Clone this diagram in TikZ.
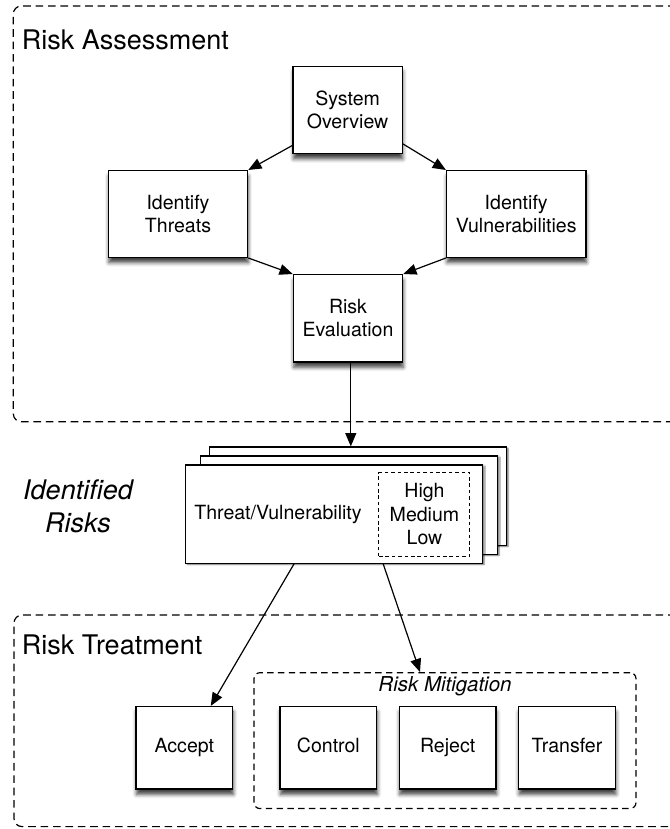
\documentclass[tikz,border=0pt]{standalone}
\usepackage{fontspec}
\setmainfont{TeX Gyre Heros}
\usetikzlibrary{arrows.meta,shadows.blur}
\tikzset{
  box/.style={draw, line width=0.035cm, fill=white, align=center, inner sep=0pt,
    font=\fontsize{13.9}{16.6}\selectfont,
    blur shadow={shadow xshift=0.4pt, shadow yshift=-3.8pt, shadow blur radius=2.8pt, shadow opacity=75}},
  smallbox/.style={box, minimum width=2.73cm, minimum height=2.18cm},
  widebox/.style={box, minimum width=3.48cm, minimum height=2.165cm},
  actbox/.style={box, minimum width=2.42cm, minimum height=2.06cm, text height=10pt, text depth=3pt},
  stackbox/.style={draw, line width=0.03cm, fill=white, minimum width=7.425cm, minimum height=2.458cm, inner sep=0pt,
    blur shadow={shadow xshift=1pt, shadow yshift=-0.8pt, shadow blur radius=1pt, shadow opacity=60}},
  link/.style={line width=0.03cm, -{Triangle[length=0.33cm,width=0.27cm]}},
  region/.style={line width=0.03cm, dash pattern=on 0.19cm off 0.12cm, rounded corners=0.2cm},
  regiontitle/.style={anchor=base west, inner sep=0pt, font=\fontsize{19.2}{23.5}\selectfont},
}
\begin{document}
\begin{tikzpicture}
                \useasboundingbox (0,0) rectangle (16.750000,20.725000);
                
                % Drawing region Risk Assessment
                \draw [region] (17.200000,20.575000) -- (0.333000,20.575000) -- (0.333000,10.180000) -- (17.200000,10.180000);%
                \draw (0.542000,19.490000) node [regiontitle] (assesstitle) {Risk Assessment};%
                
                % Marking box System Overview
                \draw (8.690000,17.975000) node [smallbox] (sysov) {System\\Overview};%
                
                % Marking box Identify Threats
                \draw (4.450000,15.375000) node [widebox] (threats) {Identify\\Threats};%
                
                % Marking box Identify Vulnerabilities
                \draw (12.905000,15.375000) node [widebox] (vulns) {Identify\\Vulnerabilities};%
                
                % Marking box Risk Evaluation
                \draw (8.700000,12.767000) node [smallbox] (riskeval) {Risk\\Evaluation};%
                
                % Drawing arrows round the assessment
                \draw [link] ([yshift=0.220000cm]sysov.south west) -- (threats.north east);%
                \draw [link] ([yshift=0.260000cm]sysov.south east) -- (vulns.north west);%
                \draw [link] (threats.south east) -- (riskeval.north west);%
                \draw [link] (vulns.south west) -- (riskeval.north east);%
                
                % Marking stack of identified risks
                \draw (8.955000,8.320000) node [stackbox] (back) {};%
                \draw (8.730000,8.095000) node [stackbox] (middle) {};%
                \draw (8.355000,7.870000) node [stackbox] (front) {};%
                \draw (6.950000,7.850000) node [font=\fontsize{13.9}{16.6}\selectfont] (tvtext) {Threat/Vulnerability};%
                \draw (10.612000,7.866000) node [draw, line width=0.025cm, dash pattern=on 0.09cm off 0.07cm, align=center, inner sep=0pt,
                  minimum width=2.275cm, minimum height=2.083cm, font=\fontsize{13.9}{16.6}\selectfont] (levels) {High\\Medium\\Low};%
                \draw (1.950000,8.060000) node [align=center, font=\fontsize{19.2}{23.5}\selectfont\itshape] (idrisks) {Identified\\Risks};%
                
                % Drawing arrow Risk Evaluation to stack
                \draw [link] ([xshift=0.070000cm]riskeval.south) -- ([xshift=0.070000cm]riskeval.south |- back.north);%
                
                % Drawing region Risk Treatment
                \draw [region] (17.200000,5.350000) -- (0.350000,5.350000) -- (0.350000,0.060000) -- (17.200000,0.060000);%
                \draw (0.542000,4.350000) node [regiontitle] (treattitle) {Risk Treatment};%
                
                % Marking group Risk Mitigation
                \draw (11.125000,2.209000) node [draw, line width=0.03cm, dash pattern=on 0.16cm off 0.11cm, rounded corners=0.15cm,
                  minimum width=9.550cm, minimum height=3.398cm] (mitig) {};%
                \draw (11.125000,3.557000) node [font=\fontsize{14.6}{17}\selectfont\itshape] (mitigtitle) {Risk Mitigation};%
                
                % Marking boxes of treatment
                \draw (4.609000,2.029000) node [actbox] (accept) {Accept};%
                \draw (8.209000,2.029000) node [actbox] (control) {Control};%
                \draw (11.190000,2.029000) node [actbox] (reject) {Reject};%
                \draw (14.175000,2.029000) node [actbox] (transfer) {Transfer};%
                
                % Drawing arrows stack to treatment
                \draw [link] ([xshift=-1.005000cm]front.south) -- ([xshift=0.660000cm]accept.north);%
                \draw [link] ([xshift=1.225000cm]front.south) -- ([xshift=-0.625000cm]mitig.north);%
\end{tikzpicture}
\end{document}
